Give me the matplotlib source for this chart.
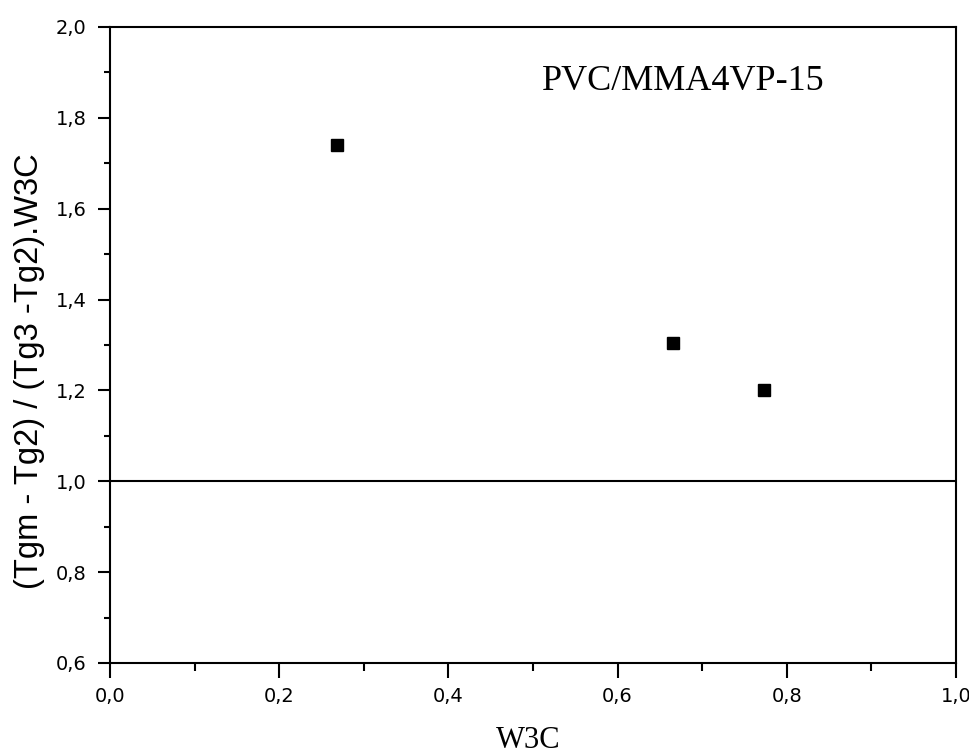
import matplotlib
matplotlib.use("Agg")
import matplotlib.pyplot as plt
from matplotlib.ticker import MultipleLocator, FixedLocator, FixedFormatter

# Composition fraction W3C and normalised Tg deviation
w3c = [0.268, 0.666, 0.773]
ratio = [1.740, 1.304, 1.200]

x_ticks = [0.0, 0.2, 0.4, 0.6, 0.8, 1.0]
x_tick_labels = ["0,0", "0,2", "0,4", "0,6", "0,8", "1,0"]
y_ticks = [0.6, 0.8, 1.0, 1.2, 1.4, 1.6, 1.8, 2.0]
y_tick_labels = ["0,6", "0,8", "1,0", "1,2", "1,4", "1,6", "1,8", "2,0"]

reference_level = 1.0
title = "PVC/MMA4VP-15"
x_label = "W3C"
y_label = "(Tgm - Tg2) / (Tg3 -Tg2).W3C"

fig = plt.figure(figsize=(9.7, 7.56), dpi=100)
ax = fig.add_axes([110 / 970, 93 / 756, 846 / 970, 636 / 756])

ax.plot(w3c, ratio, linestyle="none", marker="s", markersize=8,
        color="black", markeredgecolor="black")
ax.axhline(reference_level, color="black", linewidth=1.5)

ax.set_xlim(0.0, 1.0)
ax.set_ylim(0.6, 2.0)

ax.xaxis.set_major_locator(FixedLocator(x_ticks))
ax.xaxis.set_major_formatter(FixedFormatter(x_tick_labels))
ax.yaxis.set_major_locator(FixedLocator(y_ticks))
ax.yaxis.set_major_formatter(FixedFormatter(y_tick_labels))
ax.xaxis.set_minor_locator(MultipleLocator(0.1))
ax.yaxis.set_minor_locator(MultipleLocator(0.1))

for side in ax.spines.values():
    side.set_linewidth(1.5)

ax.tick_params(axis="x", which="major", direction="out", length=11, width=1.5,
               pad=6, labelsize=14)
ax.tick_params(axis="x", which="minor", direction="out", length=6, width=1.5)
ax.tick_params(axis="y", which="major", direction="out", length=9, width=1.5,
               pad=8, labelsize=14)
ax.tick_params(axis="y", which="minor", direction="out", length=4, width=1.5)

fig.text(542 / 970, 1 - 90 / 756, title, fontsize=26,
         family="Liberation Serif", ha="left", va="baseline")
fig.text(528 / 970, 1 - 741 / 756, x_label, fontsize=22,
         family="Liberation Serif", ha="center", va="center")
fig.text(30 / 970, 1 - 371 / 756, y_label, fontsize=23.5,
         family="Liberation Sans", rotation=90, ha="center", va="center")

fig.savefig("out.png", dpi=100)
